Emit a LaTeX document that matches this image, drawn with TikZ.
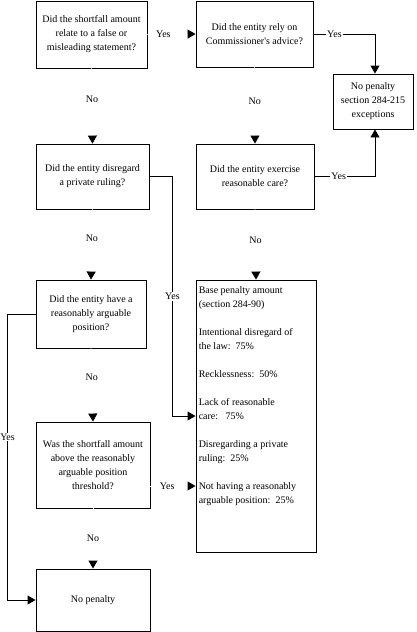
\documentclass[tikz,border=0pt]{standalone}
\usepackage{fontspec}
\setmainfont{Liberation Serif}
\usetikzlibrary{arrows.meta,calc}
\begin{document}
\begin{tikzpicture}[x=1pt,y=-1pt,
  box/.style={draw, line width=0.9pt, align=center, inner sep=0pt, font=\fontsize{10pt}{14pt}\selectfont},
  lbl/.style={font=\fontsize{10pt}{12pt}\selectfont, inner sep=1pt},
  lblw/.style={lbl, fill=white},
  tip/.style={-{Triangle[length=8pt,width=9pt,color=black]}},
  invis/.style={tip, draw=white, line width=0.9pt},
  conn/.style={tip, draw=black, line width=0.9pt},
]
\useasboundingbox (0,0) rectangle (417,632);

\node[box, minimum width=111pt, minimum height=67pt] (A) at (91.5,34.5) {Did the shortfall amount\\relate to a false or\\misleading statement?};
\node[box, minimum width=117pt, minimum height=66pt] (B) at (254.5,34) {Did the entity rely on\\Commissioner\textquotesingle s advice?};
\node[box, minimum width=80pt, minimum height=55pt] (C) at (373,101.5) {No penalty\\section 284-215\\exceptions};
\node[box, minimum width=113pt, minimum height=65pt] (D) at (92.5,176.5) {Did the entity disregard\\a private ruling?};
\node[box, minimum width=118pt, minimum height=65pt] (E) at (255,176.5) {Did the entity exercise\\reasonable care?};
\node[box, minimum width=120pt, minimum height=272pt] (F) at (256,416) {};
\node[anchor=north west, align=left, inner sep=0pt, font=\fontsize{10pt}{14pt}\selectfont] (Ftext) at ($(F.north west)+(3,6.5)$) {Base penalty amount\\(section 284-90)\\[14pt]Intentional disregard of\\the law:\ \ 75\%\\[14pt]Recklessness:\ \ 50\%\\[14pt]Lack of reasonable\\care:\ \ \ 75\%\\[14pt]Disregarding a private\\ruling:\ \ 25\%\\[14pt]Not having a reasonably\\arguable position:\ \ 25\%};
\node[box, minimum width=110pt, minimum height=68pt] (G) at (91,314) {Did the entity have a\\reasonably arguable\\position?};
\node[box, minimum width=114pt, minimum height=86pt] (H) at (93,465) {Was the shortfall amount\\above the reasonably\\arguable position\\threshold?};
\node[box, minimum width=114pt, minimum height=62pt] (I) at (93,600) {No penalty};

\coordinate (Fyes) at ($(F.west)+(0,70)$);

% invisible connectors (arrowheads only)
\draw[invis] (A.east) -- (B.west) node[lbl, pos=0.33] {Yes};
\draw[invis] (A.south) -- (D.north) node[lbl, pos=0.41] {No};
\draw[invis] (B.south) -- (E.north) node[lbl, pos=0.44] {No};
\draw[invis] (E.south) -- (F.north) node[lbl, pos=0.44] {No};
\draw[invis] (D.south) -- (G.north) node[lbl, pos=0.41] {No};
\draw[invis] (G.south) -- (H.north) node[lbl, pos=0.4] {No};
\draw[invis] (H.south) -- (I.north) node[lbl, pos=0.49] {No};
\draw[invis] (H.east |- Fyes) -- (Fyes) node[lbl, pos=0.37] {Yes};

% visible connectors
\draw[conn] (B.east) -| ($(C.north)+(2,0)$) node[lblw, pos=0.17] {Yes};
\draw[conn] (E.east) -| ($(C.south)+(2,0)$) node[lblw, pos=0.2] {Yes};
\draw[conn] (D.east) -- ++(23,0) |- (F.west) node[lblw, pos=0.25] {Yes};
\draw[conn] (G.west) -- ++(-28,0) |- (I.west) node[lblw, pos=0.215] {Yes};
\end{tikzpicture}
\end{document}
